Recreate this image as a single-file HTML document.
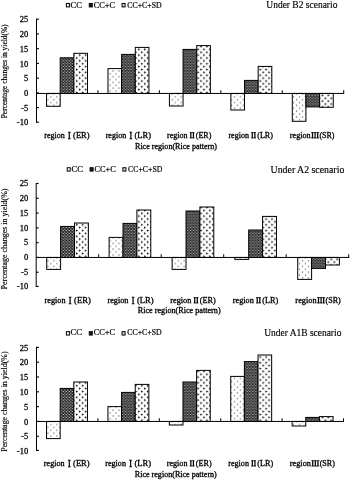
<!DOCTYPE html>
<html><head><meta charset="utf-8"><title>chart</title>
<style>
html,body{margin:0;padding:0;background:#fff;}
body{width:350px;height:480px;overflow:hidden;}
svg{display:block;opacity:0.999;will-change:transform;filter:blur(0.3px);}
text{font-family:"Liberation Serif",serif;fill:#000;stroke:#000;stroke-width:0.2;}
.yt{stroke-width:0.15;}
.tl{stroke-width:0.28;}
.tt{stroke-width:0.15;}
.lg{stroke-width:0.2;}
.cl{stroke-width:0.3;}
.ax{stroke:#000;stroke-width:1;fill:none;}
.bar{stroke:#000;stroke-width:1;}
.ax.tk{stroke-width:1.15;}
</style></head><body>
<svg width="350" height="480" viewBox="0 0 350 480">
<defs>
<pattern id="p1" patternUnits="userSpaceOnUse" width="5.92" height="5.75"><rect width="5.92" height="5.75" fill="#fff"/><circle cx="-2.38" cy="-1.05" r="0.7" fill="#686868"/><circle cx="-2.38" cy="4.70" r="0.7" fill="#686868"/><circle cx="-2.38" cy="10.45" r="0.7" fill="#686868"/><circle cx="3.54" cy="-1.05" r="0.7" fill="#686868"/><circle cx="3.54" cy="4.70" r="0.7" fill="#686868"/><circle cx="3.54" cy="10.45" r="0.7" fill="#686868"/><circle cx="9.46" cy="-1.05" r="0.7" fill="#686868"/><circle cx="9.46" cy="4.70" r="0.7" fill="#686868"/><circle cx="9.46" cy="10.45" r="0.7" fill="#686868"/><circle cx="-5.30" cy="-3.80" r="0.7" fill="#686868"/><circle cx="-5.30" cy="1.95" r="0.7" fill="#686868"/><circle cx="-5.30" cy="7.70" r="0.7" fill="#686868"/><circle cx="0.62" cy="-3.80" r="0.7" fill="#686868"/><circle cx="0.62" cy="1.95" r="0.7" fill="#686868"/><circle cx="0.62" cy="7.70" r="0.7" fill="#686868"/><circle cx="6.54" cy="-3.80" r="0.7" fill="#686868"/><circle cx="6.54" cy="1.95" r="0.7" fill="#686868"/><circle cx="6.54" cy="7.70" r="0.7" fill="#686868"/></pattern>
<pattern id="p2" patternUnits="userSpaceOnUse" width="2.96" height="2.875"><rect width="2.96" height="2.875" fill="#1a1a1a"/><circle cx="-0.26" cy="-0.88" r="0.66" fill="#e4e4e4"/><circle cx="-0.26" cy="2.00" r="0.66" fill="#e4e4e4"/><circle cx="-0.26" cy="4.88" r="0.66" fill="#e4e4e4"/><circle cx="2.70" cy="-0.88" r="0.66" fill="#e4e4e4"/><circle cx="2.70" cy="2.00" r="0.66" fill="#e4e4e4"/><circle cx="2.70" cy="4.88" r="0.66" fill="#e4e4e4"/><circle cx="5.66" cy="-0.88" r="0.66" fill="#e4e4e4"/><circle cx="5.66" cy="2.00" r="0.66" fill="#e4e4e4"/><circle cx="5.66" cy="4.88" r="0.66" fill="#e4e4e4"/><circle cx="-1.74" cy="-2.31" r="0.66" fill="#e4e4e4"/><circle cx="-1.74" cy="0.56" r="0.66" fill="#e4e4e4"/><circle cx="-1.74" cy="3.44" r="0.66" fill="#e4e4e4"/><circle cx="1.22" cy="-2.31" r="0.66" fill="#e4e4e4"/><circle cx="1.22" cy="0.56" r="0.66" fill="#e4e4e4"/><circle cx="1.22" cy="3.44" r="0.66" fill="#e4e4e4"/><circle cx="4.18" cy="-2.31" r="0.66" fill="#e4e4e4"/><circle cx="4.18" cy="0.56" r="0.66" fill="#e4e4e4"/><circle cx="4.18" cy="3.44" r="0.66" fill="#e4e4e4"/></pattern>
<pattern id="p3" patternUnits="userSpaceOnUse" width="5.92" height="5.75"><rect width="5.92" height="5.75" fill="#fff"/><path d="M-6.98 -6.38 L-4.78 -5.18 L-6.98 -3.98 Z" fill="#141414"/><path d="M-6.98 -0.63 L-4.78 0.57 L-6.98 1.77 Z" fill="#141414"/><path d="M-6.98 5.12 L-4.78 6.32 L-6.98 7.52 Z" fill="#141414"/><path d="M-1.06 -6.38 L1.14 -5.18 L-1.06 -3.98 Z" fill="#141414"/><path d="M-1.06 -0.63 L1.14 0.57 L-1.06 1.77 Z" fill="#141414"/><path d="M-1.06 5.12 L1.14 6.32 L-1.06 7.52 Z" fill="#141414"/><path d="M4.86 -6.38 L7.06 -5.18 L4.86 -3.98 Z" fill="#141414"/><path d="M4.86 -0.63 L7.06 0.57 L4.86 1.77 Z" fill="#141414"/><path d="M4.86 5.12 L7.06 6.32 L4.86 7.52 Z" fill="#141414"/><path d="M-4.02 -3.50 L-1.82 -2.30 L-4.02 -1.10 Z" fill="#141414"/><path d="M-4.02 2.25 L-1.82 3.45 L-4.02 4.65 Z" fill="#141414"/><path d="M-4.02 8.00 L-1.82 9.20 L-4.02 10.40 Z" fill="#141414"/><path d="M1.90 -3.50 L4.10 -2.30 L1.90 -1.10 Z" fill="#141414"/><path d="M1.90 2.25 L4.10 3.45 L1.90 4.65 Z" fill="#141414"/><path d="M1.90 8.00 L4.10 9.20 L1.90 10.40 Z" fill="#141414"/><path d="M7.82 -3.50 L10.02 -2.30 L7.82 -1.10 Z" fill="#141414"/><path d="M7.82 2.25 L10.02 3.45 L7.82 4.65 Z" fill="#141414"/><path d="M7.82 8.00 L10.02 9.20 L7.82 10.40 Z" fill="#141414"/></pattern>
</defs>
<rect width="350" height="480" fill="#fff"/>

<g>
<path class="ax" d="M36.50 18.70 V122.70"/>
<path class="ax tk" d="M36.50 19.20 h2.4"/>
<text class="tl" x="28.2" y="22.45" font-size="8.5" text-anchor="end">25</text>
<path class="ax tk" d="M36.50 33.94 h2.4"/>
<text class="tl" x="28.2" y="37.19" font-size="8.5" text-anchor="end">20</text>
<path class="ax tk" d="M36.50 48.68 h2.4"/>
<text class="tl" x="28.2" y="51.93" font-size="8.5" text-anchor="end">15</text>
<path class="ax tk" d="M36.50 63.42 h2.4"/>
<text class="tl" x="28.2" y="66.67" font-size="8.5" text-anchor="end">10</text>
<path class="ax tk" d="M36.50 78.16 h2.4"/>
<text class="tl" x="28.2" y="81.41" font-size="8.5" text-anchor="end">5</text>
<path class="ax tk" d="M36.50 92.90 h2.4"/>
<text class="tl" x="28.2" y="96.15" font-size="8.5" text-anchor="end">0</text>
<path class="ax tk" d="M36.50 107.64 h2.4"/>
<text class="tl" x="28.2" y="110.89" font-size="8.5" text-anchor="end">-5</text>
<path class="ax tk" d="M36.50 122.20 h2.4"/>
<text class="tl" x="28.2" y="125.45" font-size="8.5" text-anchor="end">-10</text>
<rect class="bar" x="46.54" y="93.45" width="13.65" height="12.85" fill="url(#p1)"/>
<rect class="bar" x="60.19" y="57.80" width="13.65" height="35.65" fill="url(#p2)"/>
<rect class="bar" x="73.85" y="53.30" width="13.65" height="40.15" fill="url(#p3)"/>
<rect class="bar" x="107.98" y="68.60" width="13.65" height="24.85" fill="url(#p1)"/>
<rect class="bar" x="121.63" y="54.40" width="13.65" height="39.05" fill="url(#p2)"/>
<rect class="bar" x="135.29" y="47.40" width="13.65" height="46.05" fill="url(#p3)"/>
<rect class="bar" x="169.42" y="93.45" width="13.65" height="12.55" fill="url(#p1)"/>
<rect class="bar" x="183.07" y="49.40" width="13.65" height="44.05" fill="url(#p2)"/>
<rect class="bar" x="196.73" y="45.60" width="13.65" height="47.85" fill="url(#p3)"/>
<rect class="bar" x="230.86" y="93.45" width="13.65" height="16.55" fill="url(#p1)"/>
<rect class="bar" x="244.51" y="80.40" width="13.65" height="13.05" fill="url(#p2)"/>
<rect class="bar" x="258.17" y="66.40" width="13.65" height="27.05" fill="url(#p3)"/>
<rect class="bar" x="292.30" y="93.45" width="13.65" height="27.85" fill="url(#p1)"/>
<rect class="bar" x="305.95" y="93.45" width="13.65" height="13.45" fill="url(#p2)"/>
<rect class="bar" x="319.61" y="93.45" width="13.65" height="13.85" fill="url(#p3)"/>
<path class="ax" d="M36.50 93.45 H344.20"/>
<path class="ax" d="M97.94 93.45 v-3.2"/>
<path class="ax" d="M159.38 93.45 v-3.2"/>
<path class="ax" d="M220.82 93.45 v-3.2"/>
<path class="ax" d="M282.26 93.45 v-3.2"/>
<path class="ax" d="M343.70 93.45 v-3.2"/>
<text class="cl" x="44.22" y="138.30" font-size="8" textLength="20.50" lengthAdjust="spacingAndGlyphs">region</text>
<text class="cl" x="69.32" y="138.50" font-size="9.5" text-anchor="middle">I</text>
<text class="cl" x="73.12" y="138.30" font-size="8" textLength="16.40" lengthAdjust="spacingAndGlyphs">(ER)</text>
<text class="cl" x="105.66" y="138.30" font-size="8" textLength="20.50" lengthAdjust="spacingAndGlyphs">region</text>
<text class="cl" x="130.76" y="138.50" font-size="9.5" text-anchor="middle">I</text>
<text class="cl" x="134.56" y="138.30" font-size="8" textLength="16.40" lengthAdjust="spacingAndGlyphs">(LR)</text>
<text class="cl" x="167.00" y="138.30" font-size="8" textLength="20.50" lengthAdjust="spacingAndGlyphs">region</text>
<path d="M190.80 132.30 V138.20M193.40 132.30 V138.20" stroke="#000" stroke-width="1.25" fill="none"/>
<path d="M189.70 132.60 H194.50 M189.70 137.90 H194.50" stroke="#000" stroke-width="0.75" fill="none"/>
<text class="cl" x="195.80" y="138.30" font-size="8" textLength="15.60" lengthAdjust="spacingAndGlyphs">(ER)</text>
<text class="cl" x="228.44" y="138.30" font-size="8" textLength="20.50" lengthAdjust="spacingAndGlyphs">region</text>
<path d="M252.24 132.30 V138.20M254.84 132.30 V138.20" stroke="#000" stroke-width="1.25" fill="none"/>
<path d="M251.14 132.60 H255.94 M251.14 137.90 H255.94" stroke="#000" stroke-width="0.75" fill="none"/>
<text class="cl" x="257.24" y="138.30" font-size="8" textLength="15.60" lengthAdjust="spacingAndGlyphs">(LR)</text>
<text class="cl" x="289.88" y="138.30" font-size="8" textLength="20.80" lengthAdjust="spacingAndGlyphs">region</text>
<path d="M312.48 132.30 V138.20M315.08 132.30 V138.20M317.68 132.30 V138.20" stroke="#000" stroke-width="1.25" fill="none"/>
<path d="M310.98 132.60 H319.18 M310.98 137.90 H319.18" stroke="#000" stroke-width="0.75" fill="none"/>
<text class="cl" x="319.38" y="138.30" font-size="8" textLength="15.00" lengthAdjust="spacingAndGlyphs">(SR)</text>
<text class="cl" x="135.00" y="149.00" font-size="8" textLength="82.00" lengthAdjust="spacingAndGlyphs">Rice region(Rice pattern)</text>
<text class="yt" transform="translate(7.0 118.30) rotate(-90)" font-size="7.5" textLength="93.90" lengthAdjust="spacingAndGlyphs">Percentage changes in yield(%)</text>
<text class="tt" x="266.30" y="7.80" font-size="9.8" textLength="71.10" lengthAdjust="spacingAndGlyphs">Under B2 scenario</text>
<rect x="66.40" y="3.50" width="3.0" height="3.4" fill="#fff" stroke="#000" stroke-width="1"/>
<text class="lg" x="70.60" y="8.00" font-size="8.2" textLength="11.5" lengthAdjust="spacingAndGlyphs">CC</text>
<rect x="89.30" y="3.50" width="3.0" height="3.4" fill="#222" stroke="#000" stroke-width="1"/>
<text class="lg" x="93.70" y="8.00" font-size="8.2" textLength="21.4" lengthAdjust="spacingAndGlyphs">CC+C</text>
<rect x="122.10" y="3.50" width="3.0" height="3.4" fill="#ddd" stroke="#000" stroke-width="1"/>
<text class="lg" x="127.30" y="8.00" font-size="8.2" textLength="34.3" lengthAdjust="spacingAndGlyphs">CC+C+SD</text>
</g>
<g>
<path class="ax" d="M36.20 183.00 V286.90"/>
<path class="ax tk" d="M36.20 183.50 h2.4"/>
<text class="tl" x="28.2" y="186.30" font-size="8.5" text-anchor="end">25</text>
<path class="ax tk" d="M36.20 198.29 h2.4"/>
<text class="tl" x="28.2" y="201.09" font-size="8.5" text-anchor="end">20</text>
<path class="ax tk" d="M36.20 213.08 h2.4"/>
<text class="tl" x="28.2" y="215.88" font-size="8.5" text-anchor="end">15</text>
<path class="ax tk" d="M36.20 227.87 h2.4"/>
<text class="tl" x="28.2" y="230.67" font-size="8.5" text-anchor="end">10</text>
<path class="ax tk" d="M36.20 242.66 h2.4"/>
<text class="tl" x="28.2" y="245.46" font-size="8.5" text-anchor="end">5</text>
<path class="ax tk" d="M36.20 257.45 h2.4"/>
<text class="tl" x="28.2" y="260.25" font-size="8.5" text-anchor="end">0</text>
<path class="ax tk" d="M36.20 272.24 h2.4"/>
<text class="tl" x="28.2" y="275.04" font-size="8.5" text-anchor="end">-5</text>
<path class="ax tk" d="M36.20 286.40 h2.4"/>
<text class="tl" x="28.2" y="289.20" font-size="8.5" text-anchor="end">-10</text>
<rect class="bar" x="46.72" y="257.45" width="13.89" height="11.95" fill="url(#p1)"/>
<rect class="bar" x="60.61" y="226.40" width="13.89" height="31.05" fill="url(#p2)"/>
<rect class="bar" x="74.49" y="223.00" width="13.89" height="34.45" fill="url(#p3)"/>
<rect class="bar" x="109.12" y="237.40" width="13.89" height="20.05" fill="url(#p1)"/>
<rect class="bar" x="123.01" y="223.40" width="13.89" height="34.05" fill="url(#p2)"/>
<rect class="bar" x="136.89" y="210.00" width="13.89" height="47.45" fill="url(#p3)"/>
<rect class="bar" x="172.12" y="257.45" width="13.89" height="11.95" fill="url(#p1)"/>
<rect class="bar" x="186.01" y="211.00" width="13.89" height="46.45" fill="url(#p2)"/>
<rect class="bar" x="199.89" y="207.00" width="13.89" height="50.45" fill="url(#p3)"/>
<rect class="bar" x="234.82" y="257.45" width="13.89" height="1.95" fill="url(#p1)"/>
<rect class="bar" x="248.71" y="230.00" width="13.89" height="27.45" fill="url(#p2)"/>
<rect class="bar" x="262.59" y="216.40" width="13.89" height="41.05" fill="url(#p3)"/>
<rect class="bar" x="297.72" y="257.45" width="13.89" height="21.95" fill="url(#p1)"/>
<rect class="bar" x="311.61" y="257.45" width="13.89" height="10.95" fill="url(#p2)"/>
<rect class="bar" x="325.49" y="257.45" width="13.89" height="7.55" fill="url(#p3)"/>
<path class="ax" d="M36.20 257.45 H349.20"/>
<path class="ax" d="M98.70 257.45 v-3.2"/>
<path class="ax" d="M161.20 257.45 v-3.2"/>
<path class="ax" d="M223.70 257.45 v-3.2"/>
<path class="ax" d="M286.20 257.45 v-3.2"/>
<path class="ax" d="M348.70 257.45 v-3.2"/>
<text class="cl" x="44.59" y="303.30" font-size="8" textLength="20.91" lengthAdjust="spacingAndGlyphs">region</text>
<text class="cl" x="70.20" y="303.50" font-size="9.5" text-anchor="middle">I</text>
<text class="cl" x="74.07" y="303.30" font-size="8" textLength="16.73" lengthAdjust="spacingAndGlyphs">(ER)</text>
<text class="cl" x="107.49" y="303.30" font-size="8" textLength="20.91" lengthAdjust="spacingAndGlyphs">region</text>
<text class="cl" x="133.10" y="303.50" font-size="9.5" text-anchor="middle">I</text>
<text class="cl" x="136.97" y="303.30" font-size="8" textLength="16.73" lengthAdjust="spacingAndGlyphs">(LR)</text>
<text class="cl" x="170.39" y="303.30" font-size="8" textLength="20.91" lengthAdjust="spacingAndGlyphs">region</text>
<path d="M194.69 297.30 V303.20M197.29 297.30 V303.20" stroke="#000" stroke-width="1.25" fill="none"/>
<path d="M193.59 297.60 H198.39 M193.59 302.90 H198.39" stroke="#000" stroke-width="0.75" fill="none"/>
<text class="cl" x="199.77" y="303.30" font-size="8" textLength="15.91" lengthAdjust="spacingAndGlyphs">(ER)</text>
<text class="cl" x="232.89" y="303.30" font-size="8" textLength="20.91" lengthAdjust="spacingAndGlyphs">region</text>
<path d="M257.19 297.30 V303.20M259.79 297.30 V303.20" stroke="#000" stroke-width="1.25" fill="none"/>
<path d="M256.09 297.60 H260.89 M256.09 302.90 H260.89" stroke="#000" stroke-width="0.75" fill="none"/>
<text class="cl" x="262.27" y="303.30" font-size="8" textLength="15.91" lengthAdjust="spacingAndGlyphs">(LR)</text>
<text class="cl" x="295.39" y="303.30" font-size="8" textLength="21.22" lengthAdjust="spacingAndGlyphs">region</text>
<path d="M318.50 297.30 V303.20M321.10 297.30 V303.20M323.70 297.30 V303.20" stroke="#000" stroke-width="1.25" fill="none"/>
<path d="M317.00 297.60 H325.20 M317.00 302.90 H325.20" stroke="#000" stroke-width="0.75" fill="none"/>
<text class="cl" x="325.48" y="303.30" font-size="8" textLength="15.30" lengthAdjust="spacingAndGlyphs">(SR)</text>
<text class="cl" x="137.80" y="313.40" font-size="8" textLength="82.80" lengthAdjust="spacingAndGlyphs">Rice region(Rice pattern)</text>
<text class="yt" transform="translate(6.8 289.40) rotate(-90)" font-size="8.0" textLength="100.90" lengthAdjust="spacingAndGlyphs">Percentage changes in yield(%)</text>
<text class="tt" x="270.60" y="172.70" font-size="9.8" textLength="73.70" lengthAdjust="spacingAndGlyphs">Under A2 scenario</text>
<rect x="67.20" y="167.70" width="3.0" height="3.4" fill="#fff" stroke="#000" stroke-width="1"/>
<text class="lg" x="71.40" y="172.20" font-size="8.2" textLength="11.5" lengthAdjust="spacingAndGlyphs">CC</text>
<rect x="90.10" y="167.70" width="3.0" height="3.4" fill="#222" stroke="#000" stroke-width="1"/>
<text class="lg" x="94.50" y="172.20" font-size="8.2" textLength="21.4" lengthAdjust="spacingAndGlyphs">CC+C</text>
<rect x="122.90" y="167.70" width="3.0" height="3.4" fill="#ddd" stroke="#000" stroke-width="1"/>
<text class="lg" x="128.10" y="172.20" font-size="8.2" textLength="34.3" lengthAdjust="spacingAndGlyphs">CC+C+SD</text>
</g>
<g>
<path class="ax" d="M36.50 346.90 V450.90"/>
<path class="ax tk" d="M36.50 347.40 h2.4"/>
<text class="tl" x="28.2" y="350.50" font-size="8.5" text-anchor="end">25</text>
<path class="ax tk" d="M36.50 362.21 h2.4"/>
<text class="tl" x="28.2" y="365.31" font-size="8.5" text-anchor="end">20</text>
<path class="ax tk" d="M36.50 377.02 h2.4"/>
<text class="tl" x="28.2" y="380.12" font-size="8.5" text-anchor="end">15</text>
<path class="ax tk" d="M36.50 391.83 h2.4"/>
<text class="tl" x="28.2" y="394.93" font-size="8.5" text-anchor="end">10</text>
<path class="ax tk" d="M36.50 406.64 h2.4"/>
<text class="tl" x="28.2" y="409.74" font-size="8.5" text-anchor="end">5</text>
<path class="ax tk" d="M36.50 421.45 h2.4"/>
<text class="tl" x="28.2" y="424.55" font-size="8.5" text-anchor="end">0</text>
<path class="ax tk" d="M36.50 436.26 h2.4"/>
<text class="tl" x="28.2" y="439.36" font-size="8.5" text-anchor="end">-5</text>
<path class="ax tk" d="M36.50 450.40 h2.4"/>
<text class="tl" x="28.2" y="453.50" font-size="8.5" text-anchor="end">-10</text>
<rect class="bar" x="46.53" y="421.45" width="13.64" height="17.15" fill="url(#p1)"/>
<rect class="bar" x="60.18" y="388.40" width="13.64" height="33.05" fill="url(#p2)"/>
<rect class="bar" x="73.82" y="382.00" width="13.64" height="39.45" fill="url(#p3)"/>
<rect class="bar" x="107.93" y="406.60" width="13.64" height="14.85" fill="url(#p1)"/>
<rect class="bar" x="121.58" y="392.40" width="13.64" height="29.05" fill="url(#p2)"/>
<rect class="bar" x="135.22" y="384.40" width="13.64" height="37.05" fill="url(#p3)"/>
<rect class="bar" x="169.33" y="421.45" width="13.64" height="3.55" fill="url(#p1)"/>
<rect class="bar" x="182.98" y="382.00" width="13.64" height="39.45" fill="url(#p2)"/>
<rect class="bar" x="196.62" y="370.40" width="13.64" height="51.05" fill="url(#p3)"/>
<rect class="bar" x="230.73" y="376.40" width="13.64" height="45.05" fill="url(#p1)"/>
<rect class="bar" x="244.38" y="361.60" width="13.64" height="59.85" fill="url(#p2)"/>
<rect class="bar" x="258.02" y="355.00" width="13.64" height="66.45" fill="url(#p3)"/>
<rect class="bar" x="292.13" y="421.45" width="13.64" height="4.55" fill="url(#p1)"/>
<rect class="bar" x="305.78" y="417.40" width="13.64" height="4.05" fill="url(#p2)"/>
<rect class="bar" x="319.42" y="416.60" width="13.64" height="4.85" fill="url(#p3)"/>
<path class="ax" d="M36.50 421.45 H344.00"/>
<path class="ax" d="M97.90 421.45 v-3.2"/>
<path class="ax" d="M159.30 421.45 v-3.2"/>
<path class="ax" d="M220.70 421.45 v-3.2"/>
<path class="ax" d="M282.10 421.45 v-3.2"/>
<path class="ax" d="M343.50 421.45 v-3.2"/>
<text class="cl" x="43.87" y="466.40" font-size="8" textLength="20.71" lengthAdjust="spacingAndGlyphs">region</text>
<text class="cl" x="69.22" y="466.60" font-size="9.5" text-anchor="middle">I</text>
<text class="cl" x="73.06" y="466.40" font-size="8" textLength="16.56" lengthAdjust="spacingAndGlyphs">(ER)</text>
<text class="cl" x="105.27" y="466.40" font-size="8" textLength="20.71" lengthAdjust="spacingAndGlyphs">region</text>
<text class="cl" x="130.62" y="466.60" font-size="9.5" text-anchor="middle">I</text>
<text class="cl" x="134.46" y="466.40" font-size="8" textLength="16.56" lengthAdjust="spacingAndGlyphs">(LR)</text>
<text class="cl" x="166.77" y="466.40" font-size="8" textLength="20.71" lengthAdjust="spacingAndGlyphs">region</text>
<path d="M190.82 460.40 V466.30M193.42 460.40 V466.30" stroke="#000" stroke-width="1.25" fill="none"/>
<path d="M189.72 460.70 H194.52 M189.72 466.00 H194.52" stroke="#000" stroke-width="0.75" fill="none"/>
<text class="cl" x="195.86" y="466.40" font-size="8" textLength="15.76" lengthAdjust="spacingAndGlyphs">(ER)</text>
<text class="cl" x="228.27" y="466.40" font-size="8" textLength="20.71" lengthAdjust="spacingAndGlyphs">region</text>
<path d="M252.32 460.40 V466.30M254.92 460.40 V466.30" stroke="#000" stroke-width="1.25" fill="none"/>
<path d="M251.22 460.70 H256.02 M251.22 466.00 H256.02" stroke="#000" stroke-width="0.75" fill="none"/>
<text class="cl" x="257.36" y="466.40" font-size="8" textLength="15.76" lengthAdjust="spacingAndGlyphs">(LR)</text>
<text class="cl" x="289.87" y="466.40" font-size="8" textLength="21.01" lengthAdjust="spacingAndGlyphs">region</text>
<path d="M312.72 460.40 V466.30M315.32 460.40 V466.30M317.92 460.40 V466.30" stroke="#000" stroke-width="1.25" fill="none"/>
<path d="M311.22 460.70 H319.42 M311.22 466.00 H319.42" stroke="#000" stroke-width="0.75" fill="none"/>
<text class="cl" x="319.67" y="466.40" font-size="8" textLength="15.15" lengthAdjust="spacingAndGlyphs">(SR)</text>
<text class="cl" x="134.80" y="476.60" font-size="8" textLength="82.00" lengthAdjust="spacingAndGlyphs">Rice region(Rice pattern)</text>
<text class="yt" transform="translate(7.0 451.70) rotate(-90)" font-size="8.0" textLength="100.30" lengthAdjust="spacingAndGlyphs">Percentage changes in yield(%)</text>
<text class="tt" x="264.20" y="336.30" font-size="9.8" textLength="77.20" lengthAdjust="spacingAndGlyphs">Under A1B scenario</text>
<rect x="66.40" y="331.65" width="3.0" height="3.4" fill="#fff" stroke="#000" stroke-width="1"/>
<text class="lg" x="70.60" y="335.10" font-size="8.2" textLength="11.5" lengthAdjust="spacingAndGlyphs">CC</text>
<rect x="89.30" y="331.65" width="3.0" height="3.4" fill="#222" stroke="#000" stroke-width="1"/>
<text class="lg" x="93.70" y="335.10" font-size="8.2" textLength="21.4" lengthAdjust="spacingAndGlyphs">CC+C</text>
<rect x="122.10" y="331.65" width="3.0" height="3.4" fill="#ddd" stroke="#000" stroke-width="1"/>
<text class="lg" x="127.30" y="335.10" font-size="8.2" textLength="34.3" lengthAdjust="spacingAndGlyphs">CC+C+SD</text>
</g>
</svg></body></html>
